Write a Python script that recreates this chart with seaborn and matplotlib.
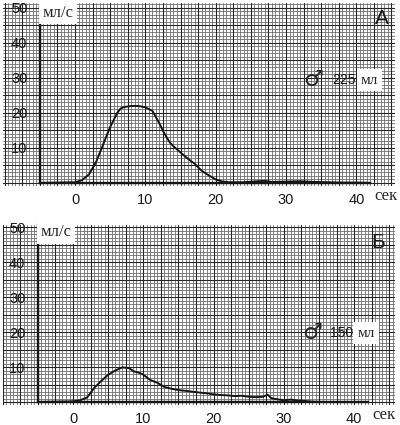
import numpy as np
import pandas as pd
import matplotlib.pyplot as plt
import seaborn as sns

sns.set_style("white")
plt.rcParams['font.family'] = ['Liberation Sans', 'DejaVu Sans']

# панель А: 225 мл
t_a = [-5, 0, 1, 2, 3, 4, 5, 6, 6.5, 7, 8, 9, 10, 11, 12, 12.6, 13.5, 14, 15, 16, 17, 18,
       19, 20, 21, 22, 24, 26, 27, 28, 30, 32, 34, 36, 38, 40, 42]
q_a = [0, 0.2, 0.8, 2.5, 6, 11, 16, 20, 21.3, 21.7, 22, 22, 21.6, 20.6, 17, 14.5, 11.5, 10.5,
       8.7, 7, 5.5, 3.5, 2.2, 1, 0.4, 0.2, 0.2, 0.5, 0.6, 0.3, 0.4, 0.5, 0.3, 0.2, 0.1, 0.1, 0]

# панель Б: 150 мл
t_b = [-5, 0, 1, 2, 3, 4, 5, 6, 7, 8, 8.6, 9.5, 10, 11, 12, 13, 14, 15, 16, 18, 19, 20, 21,
       22, 23, 24, 25, 26, 27, 27.7, 28.2, 29, 30, 31, 32, 33, 34, 36, 40, 42]
q_b = [0, 0.2, 0.5, 1.3, 4, 6, 7.8, 9, 9.9, 9.7, 8.8, 8.3, 7.8, 6.3, 5.5, 4.3, 3.8, 3.4, 3.2,
       2.7, 2.5, 2.2, 2, 1.9, 1.7, 1.8, 1.5, 1.4, 1.5, 2.1, 1.1, 0.8, 0.5, 0.7, 0.4, 0.3, 0.1,
       0, 0, 0]

x_ticks = [0, 10, 20, 30, 40]
y_ticks = [10, 20, 30, 40, 50]

panels = [
    dict(t=t_a, q=q_a, letter="А", vol="225", pos=[0.0075, 0.5624, 0.98, 0.4306],
         xlim=(-10.24, 45.5), ylim=(-0.86, 51.4), sym=(33.9, 29.4), num=(38.3, 29.4),
         ml=(41.9, 29.4), let=(43.7, 47)),
    dict(t=t_b, q=q_b, letter="Б", vol="150", pos=[0.0075, 0.047, 0.98, 0.4235],
         xlim=(-9.96, 45.8), ylim=(-0.86, 50.6), sym=(34.0, 19.7), num=(38.2, 19.7),
         ml=(41.7, 19.7), let=(43.4, 45.7)),
]

fig = plt.figure(figsize=(4.0, 4.25), dpi=100)
fig.patch.set_facecolor("white")

for p in panels:
    ax = fig.add_axes(p["pos"])
    ax.set_xlim(*p["xlim"])
    ax.set_ylim(*p["ylim"])

    # миллиметровка
    for x in np.arange(-10, 46, 0.5):
        ax.axvline(x, color="#6e6e6e", lw=0.6, zorder=0)
    for y in np.arange(-1, 52, 1):
        ax.axhline(y, color="#6e6e6e", lw=0.6, zorder=0)
    for x in np.arange(-10, 46, 2.5):
        ax.axvline(x, color="#262626", lw=0.8, zorder=0)
    for y in np.arange(0, 52, 5):
        ax.axhline(y, color="#262626", lw=0.8, zorder=0)

    df = pd.DataFrame({"t": p["t"], "q": p["q"]})
    sns.lineplot(data=df, x="t", y="q", ax=ax, color="#151515", lw=1.4, zorder=3)

    for s in ["top", "right"]:
        ax.spines[s].set_visible(False)
    ax.spines["left"].set_position(("data", -5))
    ax.spines["left"].set_bounds(0, 50.5)
    ax.spines["bottom"].set_position(("data", 0))
    ax.spines["bottom"].set_bounds(-5, 42)
    for s in ["left", "bottom"]:
        ax.spines[s].set_linewidth(1.7)
        ax.spines[s].set_color("#151515")
        ax.spines[s].set_zorder(4)

    ax.set_xticks(x_ticks)
    ax.set_yticks(y_ticks)
    ax.tick_params(axis="x", direction="out", length=3, width=1.3, pad=4, labelsize=10.5,
                   colors="#1a1a1a")
    ax.tick_params(axis="y", direction="out", length=3, width=1.3, pad=6, labelsize=10.5,
                   colors="#1a1a1a")
    ax.set_xlabel("")
    ax.set_ylabel("")

    ax.text(-4.6, 48.6, "мл/с", family="Liberation Serif", fontsize=12, ha="left",
            va="center", zorder=5,
            bbox=dict(facecolor="white", edgecolor="none", pad=2.5))
    ax.text(44.2, -3.8, "сек", family="Liberation Serif", fontsize=12, ha="center",
            va="center", clip_on=False)
    ax.text(p["sym"][0], p["sym"][1], "♂", family="DejaVu Sans", fontsize=16,
            fontweight="bold", ha="center", va="center", zorder=5)
    ax.text(p["num"][0], p["num"][1], p["vol"], fontsize=10, ha="center", va="center",
            zorder=5, color="#1a1a1a")
    ax.text(p["ml"][0], p["ml"][1], "мл", family="Liberation Serif", fontsize=11,
            ha="center", va="center", zorder=5,
            bbox=dict(facecolor="white", edgecolor="none", pad=3))
    ax.text(p["let"][0], p["let"][1], p["letter"], fontsize=15, ha="center", va="center",
            zorder=5, color="#1a1a1a")

fig.savefig("out.png", dpi=100, facecolor="white")
